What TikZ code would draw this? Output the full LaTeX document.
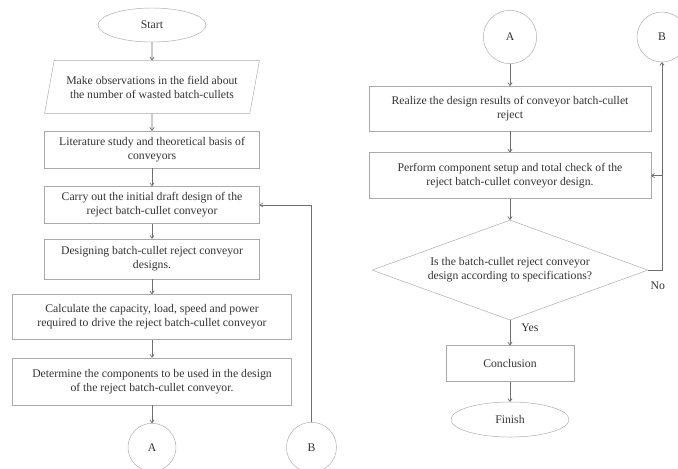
\documentclass[tikz,border=0pt]{standalone}
\usepackage{fontspec}
\setmainfont{Liberation Serif}
\usetikzlibrary{arrows.meta, positioning, shapes.geometric}
\definecolor{colLine}{RGB}{110,110,110}
\definecolor{colBox}{RGB}{170,170,170}
\definecolor{colText}{RGB}{50,50,50}

\begin{document}
\begin{tikzpicture}[
  x=0.03cm, y=-0.03cm,
  node distance=0.54cm,
  every node/.style={font=\fontsize{10}{12}\selectfont, text=colText},
  term/.style={ellipse, draw=colBox, minimum width=3.24cm, minimum height=1.02cm},
  io/.style={trapezium, trapezium left angle=71, trapezium right angle=109,
             trapezium stretches=true, draw=colBox, minimum width=6.45cm,
             minimum height=1.59cm, align=center, inner sep=1pt},
  proc/.style={rectangle, draw=colBox, minimum width=6.45cm,
               minimum height=1.11cm, align=center},
  wproc/.style={rectangle, draw=colBox, minimum width=8.4cm,
                minimum height=1.38cm, align=center},
  decision/.style={diamond, draw=colBox, aspect=2.76, inner sep=0pt,
                   minimum width=8.28cm, minimum height=3cm, align=center},
  conn/.style={circle, draw=colBox, minimum size=1.5cm},
  arr/.style={-{To[length=3pt,width=4pt]}, colLine, semithick},
]
\clip (0,0) rectangle (678,468);

% Left column
\node[term] (start) at (152,25) {Start};
\node[io, below=of start] (observe)
  {Make observations in the field about\\the number of wasted batch-cullets};
\node[proc, below=0.51cm of observe] (study)
  {Literature study and theoretical basis of\\conveyors};
\node[proc, below=of study] (draft)
  {Carry out the initial draft design of the\\reject batch-cullet conveyor};
\node[proc, below=0.45cm of draft, minimum height=1.2cm] (designing)
  {Designing batch-cullet reject conveyor\\designs.};
\node[wproc, below=0.45cm of designing, minimum width=8.37cm, minimum height=1.35cm] (calc)
  {Calculate the capacity, load, speed and power\\required to drive the reject batch-cullet conveyor};
\node[wproc, below=of calc, minimum width=8.37cm, minimum height=1.41cm] (parts)
  {Determine the components to be used in the design\\of the reject batch-cullet conveyor.};
\node[conn, below=of parts, minimum size=1.44cm] (connA) {A};
\node[conn, right=3.3cm of connA, minimum size=1.5cm] (connB) {B};

% Right column
\node[conn, minimum size=1.6cm] (contA) at (510,37) {A};
\node[conn] (contB) at (662,37) {B};
\node[wproc, below=0.66cm of contA, minimum width=8.46cm, minimum height=1.35cm] (realize)
  {Realize the design results of conveyor batch-cullet\\reject};
\node[wproc, below=0.63cm of realize, minimum width=8.46cm] (perform)
  {Perform component setup and total check of the\\reject batch-cullet conveyor design.};
\node[decision, below=0.63cm of perform] (check)
  {Is the batch-cullet reject conveyor\\design according to specifications?};
\node[proc, below=0.75cm of check, minimum width=3.84cm, minimum height=1.08cm] (concl)
  {Conclusion};
\node[term, below=0.6cm of concl, minimum width=3.54cm, minimum height=1.05cm] (finish)
  {Finish};

% Arrows: left column
\draw[arr] (start) -- (observe);
\draw[arr] (observe) -- (study);
\draw[arr] (study) -- (draft);
\draw[arr] (draft) -- (designing);
\draw[arr] (designing) -- (calc);
\draw[arr] (calc) -- (parts);
\draw[arr] (parts) -- (connA);
\draw[arr] (connB.north) |- (draft.east);

% Arrows: right column
\draw[arr] (contA) -- (realize);
\draw[arr] (realize) -- (perform);
\draw[arr] (perform) -- (check);
\draw[arr] (check) -- node[right=6pt, pos=0.3]{Yes} (concl);
\draw[arr] (concl) -- (finish);
\draw[arr] (check.east) -| node[below right=6pt and -2pt, pos=0.02]{No} (contB.south);
\coordinate (loop) at (contB.south |- perform.east);
\draw[arr] (loop) -- (perform.east);

\end{tikzpicture}
\end{document}
